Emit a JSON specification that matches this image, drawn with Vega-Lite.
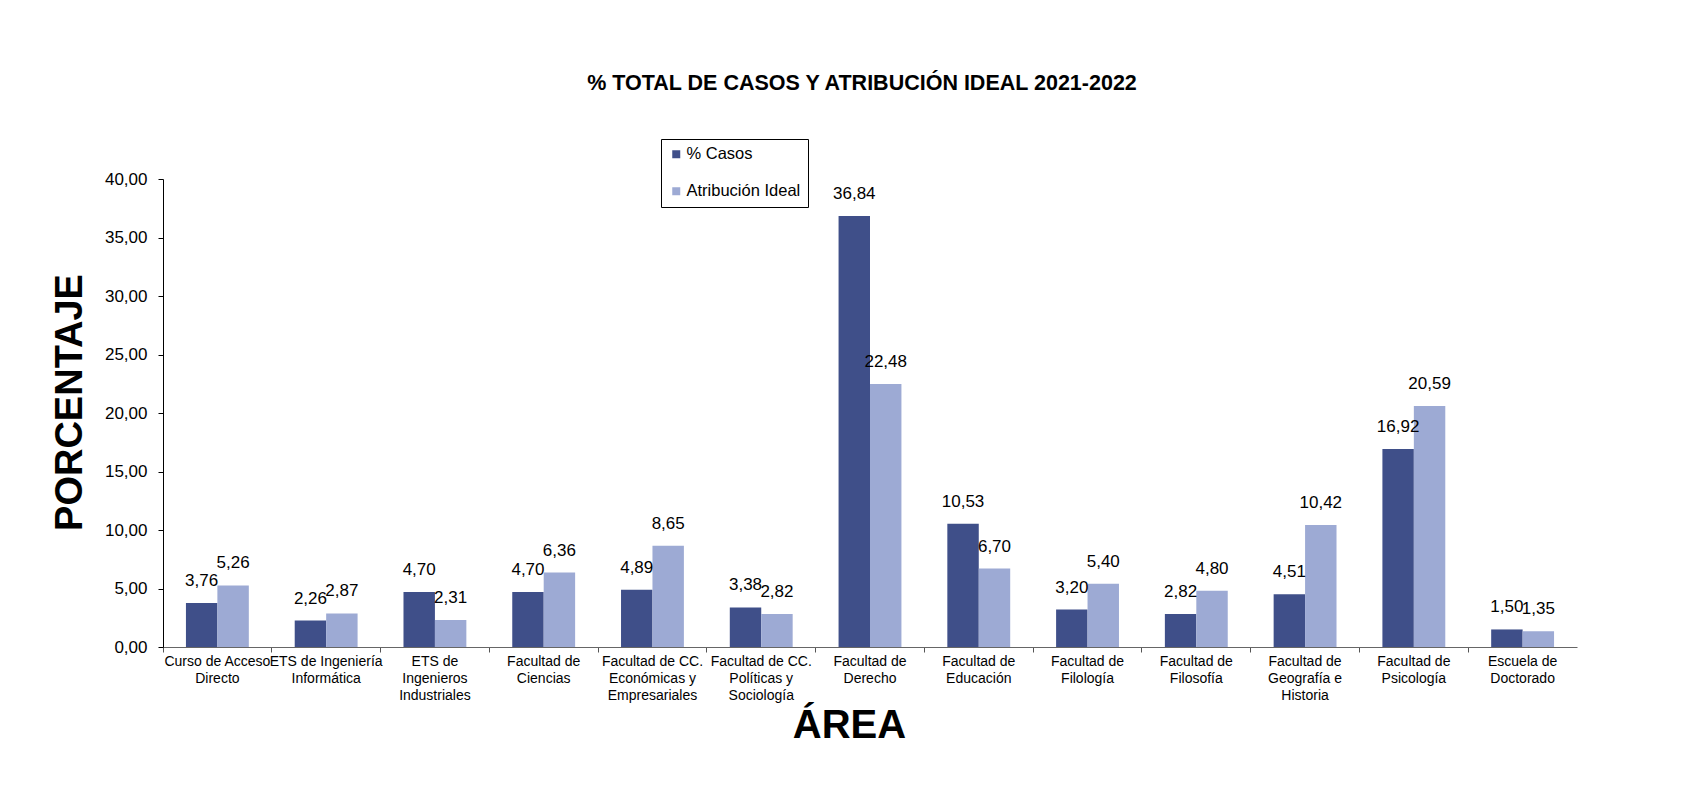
{
  "$schema": "https://vega.github.io/schema/vega-lite/v6.json",
  "width": 1414,
  "height": 468,
  "autosize": {"type": "none"},
  "padding": {"left": 163, "top": 179, "right": 131, "bottom": 146},
  "background": "white",
  "config": {
    "locale": {"number": {"decimal": ",", "thousands": ".", "grouping": [3], "currency": ["", " €"]}},
    "view": {"stroke": null},
    "font": "Liberation Sans",
    "text": {"color": "black"}
  },
  "title": {
    "text": "% TOTAL DE CASOS Y ATRIBUCIÓN IDEAL 2021-2022",
    "fontSize": 21.5,
    "fontWeight": "bold",
    "font": "Liberation Sans",
    "color": "black",
    "anchor": "middle",
    "frame": "group",
    "baseline": "alphabetic",
    "offset": 27,
    "dx": -8
  },
  "data": {
    "values": [
      {"area": "Curso de Acceso|Directo", "serie": "% Casos", "valor": 3.76},
      {"area": "Curso de Acceso|Directo", "serie": "Atribución Ideal", "valor": 5.26},
      {"area": "ETS de Ingeniería|Informática", "serie": "% Casos", "valor": 2.26},
      {"area": "ETS de Ingeniería|Informática", "serie": "Atribución Ideal", "valor": 2.87},
      {"area": "ETS de|Ingenieros|Industriales", "serie": "% Casos", "valor": 4.70},
      {"area": "ETS de|Ingenieros|Industriales", "serie": "Atribución Ideal", "valor": 2.31},
      {"area": "Facultad de|Ciencias", "serie": "% Casos", "valor": 4.70},
      {"area": "Facultad de|Ciencias", "serie": "Atribución Ideal", "valor": 6.36},
      {"area": "Facultad de CC.|Económicas y|Empresariales", "serie": "% Casos", "valor": 4.89},
      {"area": "Facultad de CC.|Económicas y|Empresariales", "serie": "Atribución Ideal", "valor": 8.65},
      {"area": "Facultad de CC.|Políticas y|Sociología", "serie": "% Casos", "valor": 3.38},
      {"area": "Facultad de CC.|Políticas y|Sociología", "serie": "Atribución Ideal", "valor": 2.82},
      {"area": "Facultad de|Derecho", "serie": "% Casos", "valor": 36.84},
      {"area": "Facultad de|Derecho", "serie": "Atribución Ideal", "valor": 22.48},
      {"area": "Facultad de|Educación", "serie": "% Casos", "valor": 10.53},
      {"area": "Facultad de|Educación", "serie": "Atribución Ideal", "valor": 6.70},
      {"area": "Facultad de|Filología", "serie": "% Casos", "valor": 3.20},
      {"area": "Facultad de|Filología", "serie": "Atribución Ideal", "valor": 5.40},
      {"area": "Facultad de|Filosofía", "serie": "% Casos", "valor": 2.82},
      {"area": "Facultad de|Filosofía", "serie": "Atribución Ideal", "valor": 4.80},
      {"area": "Facultad de|Geografía e|Historia", "serie": "% Casos", "valor": 4.51},
      {"area": "Facultad de|Geografía e|Historia", "serie": "Atribución Ideal", "valor": 10.42},
      {"area": "Facultad de|Psicología", "serie": "% Casos", "valor": 16.92},
      {"area": "Facultad de|Psicología", "serie": "Atribución Ideal", "valor": 20.59},
      {"area": "Escuela de|Doctorado", "serie": "% Casos", "valor": 1.50},
      {"area": "Escuela de|Doctorado", "serie": "Atribución Ideal", "valor": 1.35}
    ]
  },
  "encoding": {
    "x": {
      "field": "area",
      "type": "nominal",
      "sort": null,
      "scale": {"paddingInner": 0, "paddingOuter": 0},
      "axis": {
        "title": "ÁREA",
        "titleFontSize": 40,
        "titleFontWeight": "bold",
        "titleColor": "black",
        "titleX": 686,
        "titleY": 90,
        "titleAlign": "center",
        "titleBaseline": "alphabetic",
        "labelExpr": "split(datum.label, '|')",
        "labelFontSize": 14,
        "labelLineHeight": 17,
        "labelColor": "black",
        "labelAngle": 0,
        "labelPadding": 2,
        "bandPosition": 0,
        "tickSize": 5,
        "tickColor": "#555",
        "domainColor": "#666",
        "grid": false
      }
    },
    "xOffset": {
      "field": "serie",
      "type": "nominal",
      "scale": {"paddingOuter": 0.73, "paddingInner": 0}
    },
    "y": {
      "field": "valor",
      "type": "quantitative",
      "scale": {"domain": [0, 40], "nice": false},
      "axis": {
        "values": [0, 5, 10, 15, 20, 25, 30, 35, 40],
        "format": ".2f",
        "labelFontSize": 17,
        "labelColor": "black",
        "labelPadding": 11,
        "tickSize": 5,
        "tickColor": "black",
        "domainColor": "black",
        "grid": false,
        "title": "PORCENTAJE",
        "titleFontSize": 38,
        "titleFontWeight": "bold",
        "titleColor": "black",
        "titleAngle": -90,
        "titleX": -93,
        "titleY": 223,
        "titleAlign": "center",
        "titleBaseline": "middle"
      }
    }
  },
  "layer": [
    {
      "mark": {"type": "bar"},
      "encoding": {
        "color": {
          "field": "serie",
          "type": "nominal",
          "scale": {"domain": ["% Casos", "Atribución Ideal"], "range": ["#3F4F89", "#9DAAD4"]},
          "legend": {
            "title": null,
            "orient": "none",
            "legendX": 498,
            "legendY": -40,
            "direction": "vertical",
            "strokeColor": "black",
            "fillColor": "white",
            "padding": 7,
            "symbolType": "square",
            "symbolSize": 64,
            "symbolStrokeWidth": 0,
            "labelFontSize": 16.5,
            "labelColor": "black",
            "labelOffset": 2,
            "rowPadding": 20
          }
        }
      }
    },
    {
      "mark": {"type": "text", "dy": -17, "baseline": "alphabetic", "fontSize": 17, "color": "black"},
      "encoding": {
        "text": {"field": "valor", "type": "quantitative", "format": ".2f"}
      }
    }
  ]
}
